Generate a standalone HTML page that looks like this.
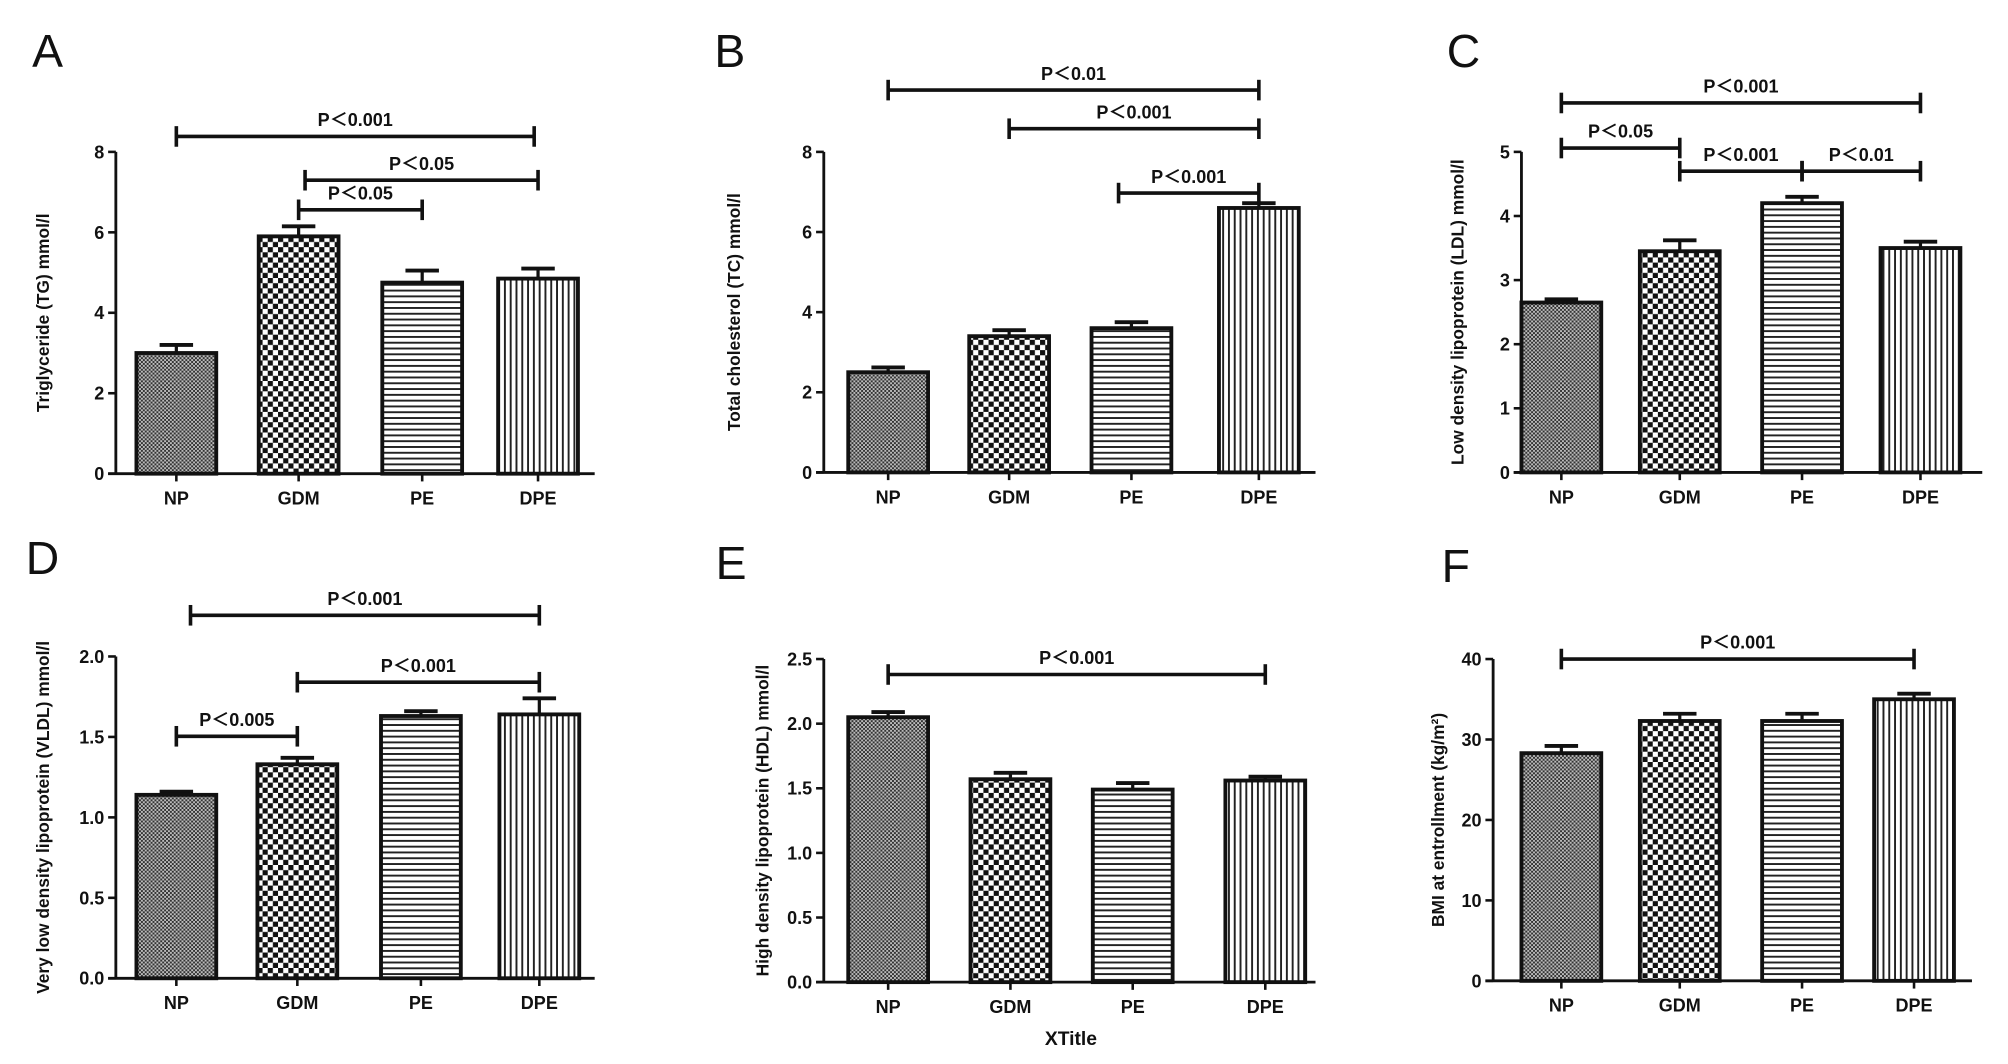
<!DOCTYPE html>
<html><head><meta charset="utf-8"><style>
html,body{margin:0;padding:0;background:#fff}
svg{display:block}
text{font-family:"Liberation Sans","Noto Sans CJK SC",sans-serif;font-weight:bold;fill:#111}
</style></head><body>
<svg id="fig" width="2008" height="1064" viewBox="0 0 1560 826.6" preserveAspectRatio="none" xmlns="http://www.w3.org/2000/svg">
<defs>
<pattern id="pNP" width="3" height="3" patternUnits="userSpaceOnUse"><rect width="3" height="3" fill="#bbb"/><rect width="1.5" height="1.5" fill="#333"/><rect x="1.5" y="1.5" width="1.5" height="1.5" fill="#333"/></pattern>
<pattern id="pGDM" width="8" height="8" patternUnits="userSpaceOnUse"><rect width="8" height="8" fill="#fff"/><rect width="4" height="4" fill="#111"/><rect x="4" y="4" width="4" height="4" fill="#111"/></pattern>
<pattern id="pPE" width="4" height="4.5" patternUnits="userSpaceOnUse"><rect width="4" height="4.5" fill="#fff"/><rect width="4" height="1.5" fill="#222"/></pattern>
<pattern id="pDPE" width="4.5" height="4" patternUnits="userSpaceOnUse"><rect width="4.5" height="4" fill="#fff"/><rect width="1.5" height="4" fill="#222"/></pattern>
</defs>
</svg>
<script>
const categories = ["NP","GDM","PE","DPE"];
const valuesA = [3.0, 5.9, 4.75, 4.85];
const errorsA = [0.2, 0.25, 0.3, 0.25];
const ticksA = [0,2,4,6,8];
const valuesB = [2.5, 3.4, 3.6, 6.6];
const errorsB = [0.12, 0.15, 0.15, 0.12];
const ticksB = [0,2,4,6,8];
const valuesC = [2.65, 3.45, 4.2, 3.5];
const errorsC = [0.05, 0.17, 0.1, 0.1];
const ticksC = [0,1,2,3,4,5];
const valuesD = [1.14, 1.33, 1.63, 1.64];
const errorsD = [0.02, 0.04, 0.03, 0.1];
const ticksD = ["0.0","0.5","1.0","1.5","2.0"];
const valuesE = [2.05, 1.57, 1.49, 1.56];
const errorsE = [0.04, 0.05, 0.05, 0.03];
const ticksE = ["0.0","0.5","1.0","1.5","2.0","2.5"];
const valuesF = [28.3, 32.3, 32.3, 35.0];
const errorsF = [0.9, 0.9, 0.9, 0.7];
const ticksF = [0,10,20,30,40];

const NS="http://www.w3.org/2000/svg";
const svg=document.getElementById('fig');
function mk(tag,attrs,parent){const e=document.createElementNS(NS,tag);for(const k in attrs)e.setAttribute(k,attrs[k]);(parent||svg).appendChild(e);return e;}
const fills=["url(#pNP)","url(#pGDM)","url(#pPE)","url(#pDPE)"];

const panels=[
 {id:"a",letter:"A",lx:25,ly:52,ax:90,y0:368,ytop:118,xs:[137,232,328,418],xend:462,vals:valuesA,errs:errorsA,ticks:ticksA,title:"Triglyceride (TG) mmol/l",tx:38,
  sig:[["P＜0.001",0,3,106,-3,0],["P＜0.05",1,3,140,0,5],["P＜0.05",1,2,163,0,0]]},
 {id:"b",letter:"B",lx:555,ly:52,ax:640,y0:367,ytop:118,xs:[690,784,879,978],xend:1022,vals:valuesB,errs:errorsB,ticks:ticksB,title:"Total cholesterol (TC) mmol/l",tx:575,
  sig:[["P＜0.01",0,3,70,0,0],["P＜0.001",1,3,100,0,0],["P＜0.001",2,3,150,0,-10]]},
 {id:"c",letter:"C",lx:1124,ly:52,ax:1182,y0:367,ytop:118,xs:[1213,1305,1400,1492],xend:1540,vals:valuesC,errs:errorsC,ticks:ticksC,title:"Low density lipoprotein (LDL) mmol/l",tx:1137,
  sig:[["P＜0.001",0,3,80,0,0],["P＜0.05",0,1,115,0,0],["P＜0.001",1,2,133,0,0],["P＜0.01",2,3,133,0,0]]},
 {id:"d",letter:"D",lx:20,ly:446,ax:90,y0:760,ytop:510,xs:[137,231,327,419],xend:462,vals:valuesD,errs:errorsD,ticks:ticksD,title:"Very low density lipoprotein (VLDL) mmol/l",tx:38,
  sig:[["P＜0.001",0,3,478,0,11],["P＜0.001",1,3,530,0,0],["P＜0.005",0,1,572,0,0]]},
 {id:"e",letter:"E",lx:556,ly:450,ax:640,y0:763,ytop:512,xs:[690,785,880,983],xend:1022,vals:valuesE,errs:errorsE,ticks:ticksE,title:"High density lipoprotein (HDL) mmol/l",tx:597,
  sig:[["P＜0.001",0,3,524,0,0]]},
 {id:"f",letter:"F",lx:1120,ly:452,ax:1160,y0:762,ytop:512,xs:[1213,1305,1400,1487],xend:1532,vals:valuesF,errs:errorsF,ticks:ticksF,title:"BMI at entrollment (kg/m²)",tx:1122,
  sig:[["P＜0.001",0,3,512,0,0]]}
];

panels.forEach(p=>{
  const g=mk('g',{});
  
  
  const tmax=parseFloat(p.ticks[p.ticks.length-1]);
  const y=v=>p.y0-(v/tmax)*(p.y0-p.ytop);
  const L=mk('text',{x:p.lx,y:p.ly,'font-size':36,style:'font-weight:normal'},g);L.textContent=p.letter;
  
  
  const ya=mk('line',{x1:p.ax,y1:p.ytop,x2:p.ax,y2:p.y0,stroke:'#111','stroke-width':2.2},g);
  
  
  p.ticks.forEach(t=>{
    const yy=y(parseFloat(t));
    mk('line',{x1:p.ax-6,y1:yy,x2:p.ax,y2:yy,stroke:'#111','stroke-width':2},g);
    const tl=mk('text',{x:p.ax-9,y:yy+5,'font-size':14,'text-anchor':'end'},g);tl.textContent=t;
    
    
  });
  const xa=mk('line',{x1:p.ax-6,y1:p.y0,x2:p.xend,y2:p.y0,stroke:'#111','stroke-width':2.2},g);
  
  
  const yt=mk('text',{x:p.tx,y:(p.ytop+p.y0)/2,'font-size':13.5,'text-anchor':'middle',transform:`rotate(-90 ${p.tx} ${(p.ytop+p.y0)/2})`},g);
  yt.textContent=p.title;
  
  
  categories.forEach((c,i)=>{
    const cx=p.xs[i],w=62,top=y(p.vals[i]);
    const eTop=y(p.vals[i]+p.errs[i]);
    const el=mk('line',{x1:cx,y1:top,x2:cx,y2:eTop,stroke:'#111','stroke-width':2.5},g);
    
    
    mk('line',{x1:cx-13,y1:eTop,x2:cx+13,y2:eTop,stroke:'#111','stroke-width':3},g);
    const b=mk('rect',{x:cx-w/2,y:top,width:w,height:p.y0-top,fill:fills[i],stroke:'#111','stroke-width':3},g);
    
    
    mk('line',{x1:cx,y1:p.y0,x2:cx,y2:p.y0+6,stroke:'#111','stroke-width':2},g);
    const cl=mk('text',{x:cx,y:p.y0+24,'font-size':14,'text-anchor':'middle'},g);cl.textContent=c;
    
    
  });
  p.sig.forEach(s=>{
    const x1=p.xs[s[1]]+s[5],x2=p.xs[s[2]]+s[4],yy=s[3];
    const sg=mk('g',{},g);
    
    
    mk('line',{x1:x1,y1:yy,x2:x2,y2:yy,stroke:'#111','stroke-width':2.8},sg);
    mk('line',{x1:x1,y1:yy-8,x2:x1,y2:yy+8,stroke:'#111','stroke-width':2.8},sg);
    mk('line',{x1:x2,y1:yy-8,x2:x2,y2:yy+8,stroke:'#111','stroke-width':2.8},sg);
    const st=mk('text',{x:(x1+x2)/2,y:yy-8,'font-size':14,'text-anchor':'middle'},sg);st.textContent=s[0];
  });
});
const xt=mk('text',{x:832,y:812,'font-size':15,'text-anchor':'middle'});xt.textContent="XTitle";


</script>
</body></html>
